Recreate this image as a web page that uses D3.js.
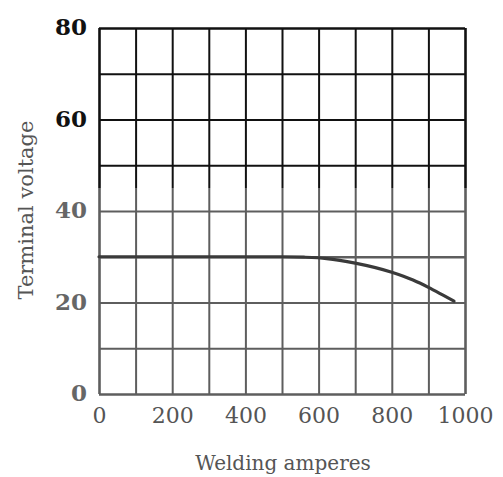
<!DOCTYPE html>
<html>
<head>
<meta charset="utf-8">
<script src="https://cdn.jsdelivr.net/npm/d3@7"></script>
<style>
  body { margin: 0; background: #fff; }
  svg { display: block; }
  .domain { display: none; }
</style>
</head>
<body>
<div id="chart"></div>
<script>
// ---- data ----
const xGrid = [0, 100, 200, 300, 400, 500, 600, 700, 800, 900, 1000];
const yGrid = [0, 10, 20, 30, 40, 50, 60, 70, 80];
const xTickLabels = [0, 200, 400, 600, 800, 1000];
const yTickLabels = [0, 20, 40, 60, 80];
// volt-ampere curve
const amps  = [0, 100, 200, 300, 400, 500, 560, 622, 700, 800, 858, 900, 940, 970];
const volts = [30, 30, 30, 30, 30, 30, 29.9, 29.6, 28.6, 26.6, 24.9, 23.3, 21.6, 20.3];

const W = 503, H = 477;
const margin = {left: 99, right: 38, top: 28, bottom: 83};
const w = W - margin.left - margin.right;
const h = H - margin.top - margin.bottom;
const darkCut = 188; // scan is black above this line, grey below

const svg = d3.select("#chart").append("svg")
    .attr("width", W)
    .attr("height", H);

const x = d3.scaleLinear().domain([0, 1000]).range([margin.left, margin.left + w]);
const y = d3.scaleLinear().domain([0, 80]).range([margin.top + h, margin.top]);

// clip regions for the two tones of the scan
const defs = svg.append("defs");
defs.append("clipPath").attr("id", "clipTop")
  .append("rect").attr("x", 0).attr("y", 0).attr("width", W).attr("height", darkCut);
defs.append("clipPath").attr("id", "clipBot")
  .append("rect").attr("x", 0).attr("y", darkCut).attr("width", W).attr("height", H - darkCut);

function drawGrid(clip, color) {
    const g = svg.append("g").attr("clip-path", `url(#${clip})`);

    g.append("g")
        .attr("transform", `translate(0,${margin.top + h})`)
        .call(d3.axisBottom(x).tickValues(xGrid).tickSize(-h).tickFormat(""))
        .call(s => s.selectAll("line")
            .attr("stroke", color)
            .attr("stroke-width", d => (d === 0 || d === 1000) ? 2.6 : 2));

    g.append("g")
        .attr("transform", `translate(${margin.left},0)`)
        .call(d3.axisLeft(y).tickValues(yGrid).tickSize(-w).tickFormat(""))
        .call(s => s.selectAll("line")
            .attr("stroke", color)
            .attr("stroke-width", d => (d === 0 || d === 80 || d === 30) ? 2.6 : 2));
}

drawGrid("clipTop", "#111");
drawGrid("clipBot", "#5e5e5e");

// the curve
const line = d3.line()
    .x((d, i) => x(amps[i]))
    .y(d => y(d))
    .curve(d3.curveMonotoneX);

svg.append("path")
    .datum(volts)
    .attr("fill", "none")
    .attr("stroke", "#3a3a3a")
    .attr("stroke-width", 3.2)
    .attr("stroke-linecap", "round")
    .attr("d", line);

// y labels
const yAx = svg.append("g")
    .attr("transform", `translate(${margin.left - 12},0)`)
    .call(d3.axisLeft(y).tickValues(yTickLabels).tickSize(0).tickPadding(0));
yAx.selectAll("text")
    .attr("font-family", "DejaVu Serif")
    .attr("font-weight", "bold")
    .attr("font-size", 23)
    .attr("dy", "0.3em")
    .attr("fill", d => d >= 60 ? "#111" : "#666");

// x labels
const xAx = svg.append("g")
    .attr("transform", `translate(0,${margin.top + h + 9})`)
    .call(d3.axisBottom(x).tickValues(xTickLabels).tickSize(0).tickPadding(0)
        .tickFormat(d3.format("d")));
xAx.selectAll("text")
    .attr("font-family", "DejaVu Serif")
    .attr("font-size", 22)
    .attr("dy", "0.9em")
    .attr("fill", "#555");

// axis titles
svg.append("text")
    .attr("x", 283)
    .attr("y", 470)
    .attr("text-anchor", "middle")
    .attr("font-family", "DejaVu Serif")
    .attr("font-size", 20)
    .attr("fill", "#555")
    .text("Welding amperes");

svg.append("text")
    .attr("transform", "translate(33,210) rotate(-90)")
    .attr("text-anchor", "middle")
    .attr("font-family", "DejaVu Serif")
    .attr("font-size", 21)
    .attr("fill", "#555")
    .text("Terminal voltage");
</script>
</body>
</html>
